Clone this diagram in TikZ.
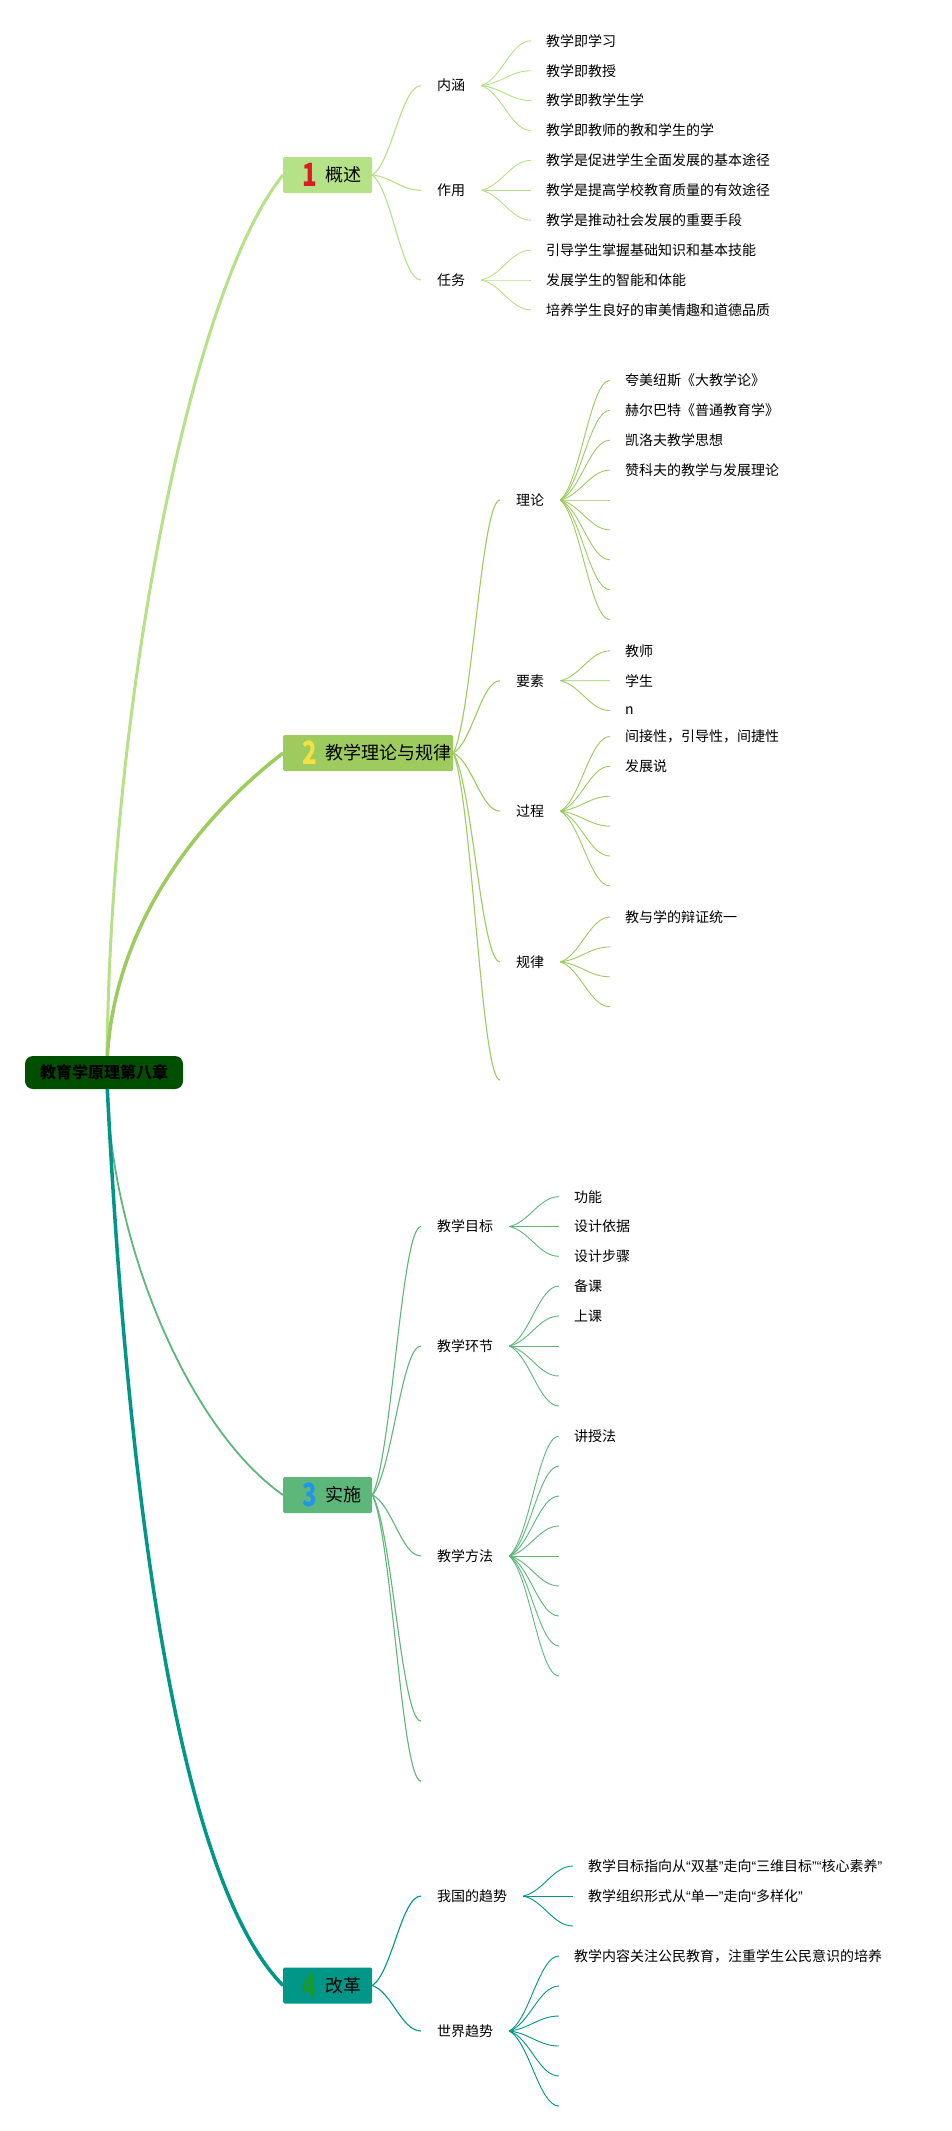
\documentclass[tikz,border=0pt]{standalone}
\usepackage{fontspec}
\usepackage{graphicx}
\setmainfont{Noto Sans CJK SC}
\newfontfamily\qfont{Liberation Sans}
\newcommand{\qL}{{\qfont “}}
\newcommand{\qR}{{\qfont ”}}
\usetikzlibrary{calc}
\definecolor{cA}{HTML}{B5E287}
\definecolor{cB}{HTML}{9DCB5E}
\definecolor{cC}{HTML}{5DB77B}
\definecolor{cD}{HTML}{009688}
\definecolor{rootc}{HTML}{004F00}
\definecolor{dA}{HTML}{DC1A22}
\definecolor{dB}{HTML}{F4E245}
\definecolor{dC}{HTML}{2196E8}
\definecolor{dD}{HTML}{1A9A2E}
\begin{document}
\begin{tikzpicture}[x=1pt,y=1pt,
  rootbox/.style={fill=rootc, rounded corners=8pt, minimum width=158pt, minimum height=33pt, inner sep=0pt, font=\fontsize{16}{16}\selectfont\bfseries, text=black},
  mainbox/.style={anchor=west, rounded corners=1.5pt, minimum height=36pt, inner sep=0pt, font=\fontsize{18}{18}\selectfont},
  digit/.style={inner sep=0pt, font=\fontsize{32}{32}\selectfont\bfseries},
  sub/.style={anchor=west, inner xsep=16pt, inner ysep=2pt, font=\fontsize{14}{14}\selectfont},
  leaf/.style={anchor=west, inner xsep=15pt, inner ysep=2pt, font=\fontsize{14}{14}\selectfont},
  curvy/.style={to path={let \p1=(\tikztostart), \p2=(\tikztotarget) in .. controls ($(\p1)!0.3!(\x2,\y1)!0.15!(\p2)$) and ($(\p2)!0.4!(\x1,\y2)$) .. (\p2)}},
  subA/.style={draw=cA, line width=1.1pt, curvy},
  subB/.style={draw=cB, line width=1.1pt, curvy},
  subC/.style={draw=cC, line width=1.1pt, curvy},
  subD/.style={draw=cD, line width=1.1pt, curvy},
  lfA/.style={draw=cA, line width=0.9pt, curvy},
  lfB/.style={draw=cB, line width=0.9pt, curvy},
  lfC/.style={draw=cC, line width=0.9pt, curvy},
  lfD/.style={draw=cD, line width=0.9pt, curvy},
]
\useasboundingbox (0,0) rectangle (951,-2131);
\fill[white] (0,0) rectangle (951,-2131);

\coordinate (rtop) at (107,-1062);
\coordinate (rbot) at (107,-1083);

% ---------- main boxes ----------
\node[mainbox, fill=cA] (b1) at (283,-175) {\hbox to 89pt{\hskip42pt 概述\hfil}};
\node[mainbox, fill=cB] (b2) at (283,-753) {\hbox to 170pt{\hskip42pt 教学理论与规律\hfil}};
\node[mainbox, fill=cC] (b3) at (283,-1495) {\hbox to 89pt{\hskip42pt 实施\hfil}};
\node[mainbox, fill=cD] (b4) at (283,-1985.5) {\hbox to 89pt{\hskip42pt 改革\hfil}};
\node[digit, text=dA] (n1) at (310,-175) {\scalebox{0.75}[1]{1}};
\node[digit, text=dB] (n2) at (310,-753) {\scalebox{0.75}[1]{2}};
\node[digit, text=dC] (n3) at (310,-1495) {\scalebox{0.75}[1]{3}};
\node[digit, text=dD] (n4) at (310,-1985.5) {\scalebox{0.75}[1]{4}};

% ---------- branch 1 ----------
\node[sub] (s11) at (421,-85.65) {内涵};
\node[sub] (s12) at (421,-190.3) {作用};
\node[sub] (s13) at (421,-280) {任务};
\node[leaf] (l111) at (531,-40.8) {教学即学习};
\node[leaf] (l112) at (531,-70.7) {教学即教授};
\node[leaf] (l113) at (531,-100.6) {教学即教学生学};
\node[leaf] (l114) at (531,-130.5) {教学即教师的教和学生的学};
\node[leaf] (l121) at (531,-160.4) {教学是促进学生全面发展的基本途径};
\node[leaf] (l122) at (531,-190.3) {教学是提高学校教育质量的有效途径};
\node[leaf] (l123) at (531,-220.2) {教学是推动社会发展的重要手段};
\node[leaf] (l131) at (531,-250.1) {引导学生掌握基础知识和基本技能};
\node[leaf] (l132) at (531,-280) {发展学生的智能和体能};
\node[leaf] (l133) at (531,-309.9) {培养学生良好的审美情趣和道德品质};

% ---------- branch 2 ----------
\node[sub] (s21) at (500,-500) {理论};
\node[sub] (s22) at (500,-680.7) {要素};
\node[sub] (s23) at (500,-811.15) {过程};
\node[sub] (s24) at (500,-961.85) {规律};
\coordinate (e25) at (500,-1080);
\node[leaf] (l211) at (610,-380.4) {夸美纽斯《大教学论》};
\node[leaf] (l212) at (610,-410.3) {赫尔巴特《普通教育学》};
\node[leaf] (l213) at (610,-440.2) {凯洛夫教学思想};
\node[leaf] (l214) at (610,-470.1) {赞科夫的教学与发展理论};
\coordinate (l215) at (610,-500);
\coordinate (l216) at (610,-529.9);
\coordinate (l217) at (610,-559.8);
\coordinate (l218) at (610,-589.7);
\coordinate (l219) at (610,-619.6);
\node[leaf] (l221) at (610,-650.8) {教师};
\node[leaf] (l222) at (610,-680.7) {学生};
\node[leaf] (l223) at (610,-710.6) {n};
\node[leaf] (l231) at (610,-736.4) {间接性，引导性，间捷性};
\node[leaf] (l232) at (610,-766.3) {发展说};
\coordinate (l233) at (610,-796.2);
\coordinate (l234) at (610,-826.1);
\coordinate (l235) at (610,-856);
\coordinate (l236) at (610,-885.9);
\node[leaf] (l241) at (610,-917) {教与学的辩证统一};
\coordinate (l242) at (610,-946.9);
\coordinate (l243) at (610,-976.8);
\coordinate (l244) at (610,-1006.7);

% ---------- branch 3 ----------
\node[sub] (s31) at (421,-1226.5) {教学目标};
\node[sub] (s32) at (421,-1346) {教学环节};
\node[sub] (s33) at (421,-1556) {教学方法};
\coordinate (e34) at (421,-1721);
\coordinate (e35) at (421,-1781);
\node[leaf] (l311) at (559,-1196.7) {功能};
\node[leaf] (l312) at (559,-1226.5) {设计依据};
\node[leaf] (l313) at (559,-1256.3) {设计步骤};
\node[leaf] (l321) at (559,-1286) {备课};
\node[leaf] (l322) at (559,-1316) {上课};
\coordinate (l323) at (559,-1346);
\coordinate (l324) at (559,-1376);
\coordinate (l325) at (559,-1406);
\node[leaf] (l331) at (559,-1436) {讲授法};
\coordinate (l332) at (559,-1466);
\coordinate (l333) at (559,-1496);
\coordinate (l334) at (559,-1526);
\coordinate (l335) at (559,-1556);
\coordinate (l336) at (559,-1586);
\coordinate (l337) at (559,-1616);
\coordinate (l338) at (559,-1646);
\coordinate (l339) at (559,-1676);

% ---------- branch 4 ----------
\node[sub] (s41) at (421,-1896) {我国的趋势};
\node[sub] (s42) at (421,-2031) {世界趋势};
\node[leaf] (l411) at (573,-1866) {教学目标指向从\qL 双基\qR 走向\qL 三维目标\qR\qL 核心素养\qR};
\node[leaf] (l412) at (573,-1896) {教学组织形式从\qL 单一\qR 走向\qL 多样化\qR};
\coordinate (l413) at (573,-1926);
\node[leaf] (l421) at (559,-1956) {教学内容关注公民教育，注重学生公民意识的培养};
\coordinate (l422) at (559,-1986);
\coordinate (l423) at (559,-2016);
\coordinate (l424) at (559,-2046);
\coordinate (l425) at (559,-2076);
\coordinate (l426) at (559,-2106);

% ---------- main connectors ----------
\draw[cA, line width=3pt] (rtop) .. controls +(3,356) and +(-93,-115) .. (b1.west);
\draw[cB, line width=3.5pt] (rtop) .. controls +(8,178) and +(-28,-22) .. (b2.west);
\draw[cC, line width=1.8pt] (rbot) .. controls +(3,-161) and +(-93,65) .. (b3.west);
\draw[cD, line width=3.5pt] (rbot) .. controls +(18,-361) and +(-113,115) .. (b4.west);

% ---------- sub connectors ----------
\foreach \t in {s11,s12,s13} \draw[subA] (b1.east) to (\t.west);
\foreach \t in {s21,s22,s23,s24} \draw[subB] (b2.east) to (\t.west);
\draw[subB] (b2.east) to (e25);
\foreach \t in {s31,s32,s33} \draw[subC] (b3.east) to (\t.west);
\draw[subC] (b3.east) to (e34);
\draw[subC] (b3.east) to (e35);
\foreach \t in {s41,s42} \draw[subD] (b4.east) to (\t.west);

% ---------- leaf connectors ----------
\foreach \t in {l111,l112,l113,l114} \draw[lfA] (s11.east) to (\t.west);
\foreach \t in {l121,l122,l123} \draw[lfA] (s12.east) to (\t.west);
\foreach \t in {l131,l132,l133} \draw[lfA] (s13.east) to (\t.west);
\foreach \t in {l211,l212,l213,l214} \draw[lfB] (s21.east) to (\t.west);
\foreach \t in {l215,l216,l217,l218,l219} \draw[lfB] (s21.east) to (\t);
\foreach \t in {l221,l222,l223} \draw[lfB] (s22.east) to (\t.west);
\foreach \t in {l231,l232} \draw[lfB] (s23.east) to (\t.west);
\foreach \t in {l233,l234,l235,l236} \draw[lfB] (s23.east) to (\t);
\draw[lfB] (s24.east) to (l241.west);
\foreach \t in {l242,l243,l244} \draw[lfB] (s24.east) to (\t);
\foreach \t in {l311,l312,l313} \draw[lfC] (s31.east) to (\t.west);
\foreach \t in {l321,l322} \draw[lfC] (s32.east) to (\t.west);
\foreach \t in {l323,l324,l325} \draw[lfC] (s32.east) to (\t);
\draw[lfC] (s33.east) to (l331.west);
\foreach \t in {l332,l333,l334,l335,l336,l337,l338,l339} \draw[lfC] (s33.east) to (\t);
\foreach \t in {l411,l412} \draw[lfD] (s41.east) to (\t.west);
\draw[lfD] (s41.east) to (l413);
\draw[lfD] (s42.east) to (l421.west);
\foreach \t in {l422,l423,l424,l425,l426} \draw[lfD] (s42.east) to (\t);

% ---------- root ----------
\node[rootbox] (root) at (104,-1072.5) {教育学原理第八章};
\end{tikzpicture}
\end{document}
